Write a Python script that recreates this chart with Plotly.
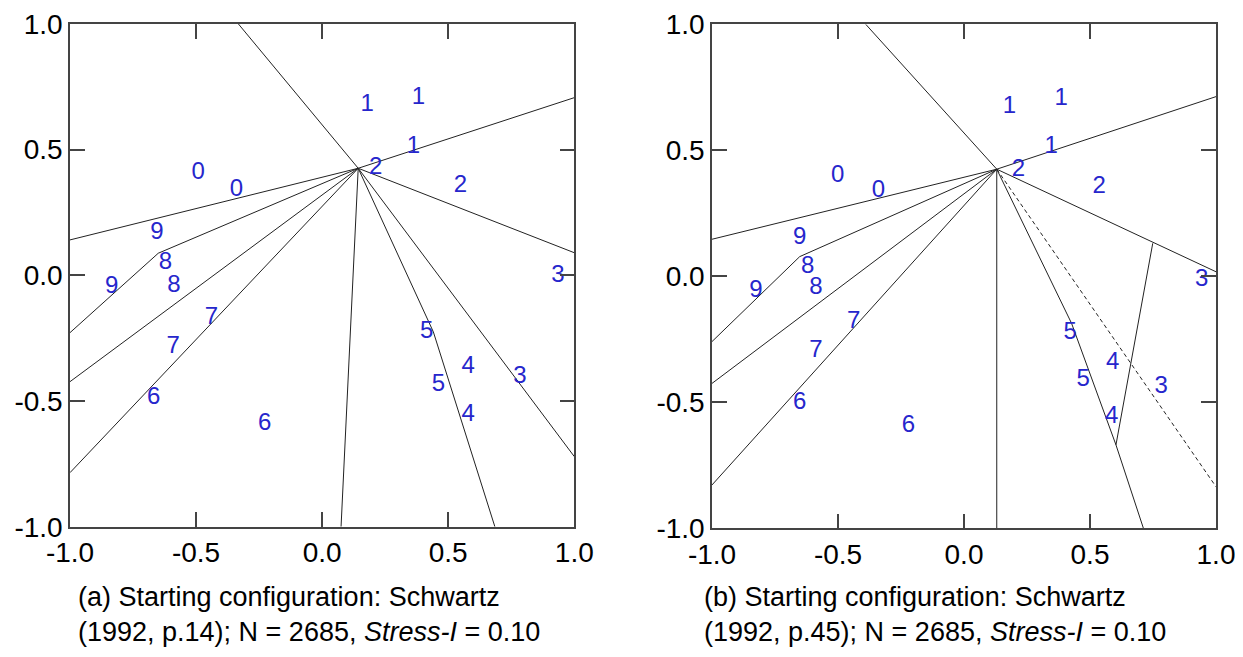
import plotly.graph_objects as go

# ---------------- data ----------------
tick_vals = [-1.0, -0.5, 0.0, 0.5, 1.0]
tick_text = ["-1.0", "-0.5", "0.0", "0.5", "1.0"]

# Panel (a) value labels
labels_a = ["1", "1", "1", "2", "2", "0", "0", "9", "8", "9", "8", "3",
            "7", "7", "6", "6", "5", "5", "4", "4", "3"]
x_a = [0.179, 0.382, 0.362, 0.212, 0.548, -0.492, -0.340, -0.655, -0.622, -0.835, -0.588, 0.935,
       -0.439, -0.591, -0.668, -0.228, 0.415, 0.461, 0.579, 0.579, 0.784]
y_a = [0.678, 0.704, 0.512, 0.428, 0.357, 0.409, 0.340, 0.167, 0.048, -0.045, -0.042, -0.002,
       -0.171, -0.284, -0.489, -0.591, -0.224, -0.436, -0.363, -0.555, -0.403]

# Panel (a) partition lines (polylines from the common centre)
lines_a_x = [[0.143, -0.332], [0.143, 1.0], [0.143, -1.0], [0.143, 1.0],
             [0.143, -0.650, -1.0], [0.143, -1.0], [0.143, -1.0], [0.143, 0.075],
             [0.143, 0.441, 0.685], [0.143, 1.0]]
lines_a_y = [[0.426, 1.0], [0.426, 0.707], [0.426, 0.141], [0.426, 0.090],
             [0.426, 0.088, -0.228], [0.426, -0.423], [0.426, -0.785], [0.426, -1.0],
             [0.426, -0.225, -1.0], [0.426, -0.721]]

# Panel (b) value labels
labels_b = ["1", "1", "1", "2", "2", "0", "0", "9", "8", "9", "8", "3",
            "7", "7", "6", "6", "5", "5", "4", "4", "3"]
x_b = [0.180, 0.386, 0.346, 0.216, 0.536, -0.501, -0.340, -0.652, -0.620, -0.826, -0.588, 0.943,
       -0.438, -0.588, -0.652, -0.221, 0.421, 0.473, 0.590, 0.586, 0.782]
y_b = [0.673, 0.704, 0.514, 0.422, 0.356, 0.398, 0.340, 0.151, 0.038, -0.057, -0.048, -0.015,
       -0.180, -0.295, -0.504, -0.593, -0.224, -0.411, -0.345, -0.557, -0.440]

# Panel (b) partition lines
lines_b_x = [[0.130, -0.390], [0.130, 1.0], [0.130, -1.0], [0.130, 1.0],
             [0.749, 0.603], [0.130, 0.427, 0.603, 0.712], [0.130, 0.130],
             [0.130, -0.652, -1.0], [0.130, -1.0], [0.130, -1.0]]
lines_b_y = [[0.425, 1.0], [0.425, 0.713], [0.425, 0.147], [0.425, 0.018],
             [0.131, -0.669], [0.425, -0.187, -0.669, -1.0], [0.425, -1.0],
             [0.425, 0.078, -0.259], [0.425, -0.425], [0.425, -0.828]]
dashed_b_x = [0.130, 1.0]
dashed_b_y = [0.425, -0.835]

caption_a = "(a) Starting configuration: Schwartz<br>(1992, p.14); N = 2685, <i>Stress-I</i> = 0.10"
caption_b = "(b) Starting configuration: Schwartz<br>(1992, p.45); N = 2685, <i>Stress-I</i> = 0.10"

# ---------------- figure ----------------
W, H = 1243, 657
OFF = 8  # page body margin offset
FONT = "Arial, 'Liberation Sans', sans-serif"
LINE_COLOR = "#222222"
LABEL_COLOR = "#2626CC"
AXIS_COLOR = "#444444"

fig = go.Figure()

def add_panel(lx, ly, texts, tx, ty, xa, ya):
    for xs, ys in zip(lx, ly):
        fig.add_trace(go.Scatter(x=xs, y=ys, mode="lines",
                                 line=dict(color=LINE_COLOR, width=1),
                                 xaxis=xa, yaxis=ya, hoverinfo="skip", showlegend=False))
    fig.add_trace(go.Scatter(x=tx, y=ty, mode="text", text=texts,
                             textposition="middle center",
                             textfont=dict(family=FONT, size=24, color=LABEL_COLOR),
                             cliponaxis=False, xaxis=xa, yaxis=ya,
                             hoverinfo="skip", showlegend=False))

add_panel(lines_a_x, lines_a_y, labels_a, x_a, y_a, "x", "y")
add_panel(lines_b_x, lines_b_y, labels_b, x_b, y_b, "x2", "y2")
fig.add_trace(go.Scatter(x=dashed_b_x, y=dashed_b_y, mode="lines",
                         line=dict(color=LINE_COLOR, width=1, dash="4px,3px"),
                         xaxis="x2", yaxis="y2", hoverinfo="skip", showlegend=False))

axis_common = dict(range=[-1, 1], tickvals=tick_vals, ticktext=tick_text,
                   ticks="inside", ticklen=15, tickwidth=1.5, tickcolor=AXIS_COLOR,
                   showline=True, linecolor=AXIS_COLOR, linewidth=1.5, mirror="ticks",
                   showgrid=False, zeroline=False, fixedrange=True, automargin=False,
                   tickfont=dict(family=FONT, size=28, color="black"))

def xdom(a, b):
    return [(a - OFF) / W, (b - OFF) / W]

def ydom(top, bottom):
    return [1 - (bottom - OFF) / H, 1 - (top - OFF) / H]

fig.update_layout(
    width=W, height=H,
    margin=dict(l=0, r=0, t=0, b=0, pad=0, autoexpand=False),
    paper_bgcolor="white", plot_bgcolor="white",
    showlegend=False,
    xaxis=dict(domain=xdom(70, 574.3), anchor="y", **axis_common),
    yaxis=dict(domain=ydom(24, 526.7), anchor="x", **axis_common),
    xaxis2=dict(domain=xdom(712, 1216), anchor="y2", **axis_common),
    yaxis2=dict(domain=ydom(24.3, 528.3), anchor="x2", **axis_common),
)

for cap, x0 in [(caption_a, 76), (caption_b, 702)]:
    fig.add_annotation(text=cap, xref="paper", yref="paper",
                       x=(x0 - OFF) / W, y=1 - (580 - OFF) / H, xanchor="left", yanchor="top",
                       align="left", showarrow=False,
                       font=dict(family=FONT, size=27, color="black"))

fig.write_html("out.html")
